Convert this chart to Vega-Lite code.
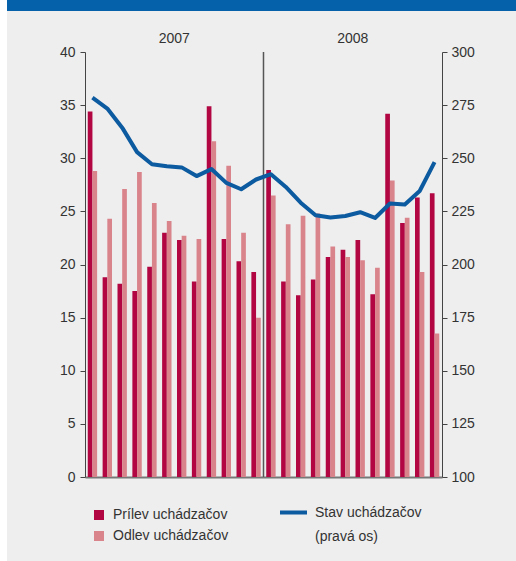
{
  "$schema": "https://vega.github.io/schema/vega-lite/v6.json",
  "background": "#eeeeee",
  "padding": 0,
  "config": {
    "font": "Liberation Sans",
    "view": {"stroke": null},
    "concat": {"spacing": 0}
  },
  "datasets": {
    "bars": [
      {"month": "2007-01", "series": "Prílev uchádzačov", "value": 34.4},
      {"month": "2007-02", "series": "Prílev uchádzačov", "value": 18.8},
      {"month": "2007-03", "series": "Prílev uchádzačov", "value": 18.2},
      {"month": "2007-04", "series": "Prílev uchádzačov", "value": 17.5},
      {"month": "2007-05", "series": "Prílev uchádzačov", "value": 19.8},
      {"month": "2007-06", "series": "Prílev uchádzačov", "value": 23.0},
      {"month": "2007-07", "series": "Prílev uchádzačov", "value": 22.3},
      {"month": "2007-08", "series": "Prílev uchádzačov", "value": 18.4},
      {"month": "2007-09", "series": "Prílev uchádzačov", "value": 34.9},
      {"month": "2007-10", "series": "Prílev uchádzačov", "value": 22.4},
      {"month": "2007-11", "series": "Prílev uchádzačov", "value": 20.3},
      {"month": "2007-12", "series": "Prílev uchádzačov", "value": 19.3},
      {"month": "2008-01", "series": "Prílev uchádzačov", "value": 28.9},
      {"month": "2008-02", "series": "Prílev uchádzačov", "value": 18.4},
      {"month": "2008-03", "series": "Prílev uchádzačov", "value": 17.1},
      {"month": "2008-04", "series": "Prílev uchádzačov", "value": 18.6},
      {"month": "2008-05", "series": "Prílev uchádzačov", "value": 20.7},
      {"month": "2008-06", "series": "Prílev uchádzačov", "value": 21.4},
      {"month": "2008-07", "series": "Prílev uchádzačov", "value": 22.3},
      {"month": "2008-08", "series": "Prílev uchádzačov", "value": 17.2},
      {"month": "2008-09", "series": "Prílev uchádzačov", "value": 34.2},
      {"month": "2008-10", "series": "Prílev uchádzačov", "value": 23.9},
      {"month": "2008-11", "series": "Prílev uchádzačov", "value": 26.3},
      {"month": "2008-12", "series": "Prílev uchádzačov", "value": 26.7},
      {"month": "2007-01", "series": "Odlev uchádzačov", "value": 28.8},
      {"month": "2007-02", "series": "Odlev uchádzačov", "value": 24.3},
      {"month": "2007-03", "series": "Odlev uchádzačov", "value": 27.1},
      {"month": "2007-04", "series": "Odlev uchádzačov", "value": 28.7},
      {"month": "2007-05", "series": "Odlev uchádzačov", "value": 25.8},
      {"month": "2007-06", "series": "Odlev uchádzačov", "value": 24.1},
      {"month": "2007-07", "series": "Odlev uchádzačov", "value": 22.7},
      {"month": "2007-08", "series": "Odlev uchádzačov", "value": 22.4},
      {"month": "2007-09", "series": "Odlev uchádzačov", "value": 31.6},
      {"month": "2007-10", "series": "Odlev uchádzačov", "value": 29.3},
      {"month": "2007-11", "series": "Odlev uchádzačov", "value": 23.0},
      {"month": "2007-12", "series": "Odlev uchádzačov", "value": 15.0},
      {"month": "2008-01", "series": "Odlev uchádzačov", "value": 26.5},
      {"month": "2008-02", "series": "Odlev uchádzačov", "value": 23.8},
      {"month": "2008-03", "series": "Odlev uchádzačov", "value": 24.6},
      {"month": "2008-04", "series": "Odlev uchádzačov", "value": 24.8},
      {"month": "2008-05", "series": "Odlev uchádzačov", "value": 21.7},
      {"month": "2008-06", "series": "Odlev uchádzačov", "value": 20.7},
      {"month": "2008-07", "series": "Odlev uchádzačov", "value": 20.4},
      {"month": "2008-08", "series": "Odlev uchádzačov", "value": 19.7},
      {"month": "2008-09", "series": "Odlev uchádzačov", "value": 27.9},
      {"month": "2008-10", "series": "Odlev uchádzačov", "value": 24.4},
      {"month": "2008-11", "series": "Odlev uchádzačov", "value": 19.3},
      {"month": "2008-12", "series": "Odlev uchádzačov", "value": 13.5}
    ],
    "stav": [
      {"month": "2007-01", "stav": 278.5},
      {"month": "2007-02", "stav": 273.4},
      {"month": "2007-03", "stav": 264.4},
      {"month": "2007-04", "stav": 252.9},
      {"month": "2007-05", "stav": 247.2},
      {"month": "2007-06", "stav": 246.2},
      {"month": "2007-07", "stav": 245.7},
      {"month": "2007-08", "stav": 241.6},
      {"month": "2007-09", "stav": 244.9},
      {"month": "2007-10", "stav": 238.4},
      {"month": "2007-11", "stav": 235.4},
      {"month": "2007-12", "stav": 240.0},
      {"month": "2008-01", "stav": 242.5},
      {"month": "2008-02", "stav": 236.5},
      {"month": "2008-03", "stav": 229.1},
      {"month": "2008-04", "stav": 223.2},
      {"month": "2008-05", "stav": 222.1},
      {"month": "2008-06", "stav": 222.8},
      {"month": "2008-07", "stav": 224.6},
      {"month": "2008-08", "stav": 221.9},
      {"month": "2008-09", "stav": 228.7},
      {"month": "2008-10", "stav": 228.2},
      {"month": "2008-11", "stav": 234.6},
      {"month": "2008-12", "stav": 248.2}
    ],
    "years": [
      {"year": "2007", "m": "2007-07"},
      {"year": "2008", "m": "2008-07"}
    ]
  },
  "hconcat": [
    {
      "width": 7,
      "height": 561,
      "data": {"values": []},
      "mark": "point",
      "view": {"fill": "white", "stroke": null}
    },
    {
      "spacing": 41,
      "bounds": "flush",
      "vconcat": [
        {
          "width": 509,
          "height": 11,
          "data": {"values": []},
          "mark": "point",
          "view": {"fill": "#0561a9", "stroke": null}
        },
        {
          "spacing": 0,
          "bounds": "flush",
          "hconcat": [
            {
              "width": 78,
              "height": 425,
              "data": {"values": []},
              "mark": "point"
            },
            {
              "width": 357,
              "height": 425,
              "layer": [
                {
                  "layer": [
                    {
                      "data": {"name": "bars"},
                      "mark": {"type": "bar"},
                      "encoding": {
                        "x": {
                          "field": "month",
                          "type": "nominal",
                          "scale": {"paddingInner": 0.37, "paddingOuter": 0.185},
                          "axis": {"labels": false, "ticks": false, "title": null, "domainColor": "#777777", "domainWidth": 2}
                        },
                        "xOffset": {
                          "field": "series",
                          "type": "nominal",
                          "scale": {"domain": ["Prílev uchádzačov", "Odlev uchádzačov"], "paddingInner": 0, "paddingOuter": 0}
                        },
                        "y": {
                          "field": "value",
                          "type": "quantitative",
                          "scale": {"domain": [0, 40], "nice": false},
                          "axis": {
                            "orient": "left",
                            "values": [0, 5, 10, 15, 20, 25, 30, 35, 40],
                            "tickSize": 5,
                            "labelFontSize": 14,
                            "labelColor": "#333333",
                            "labelPadding": 5,
                            "domainColor": "#444444",
                            "tickColor": "#444444",
                            "grid": false,
                            "title": null
                          }
                        },
                        "color": {
                          "field": "series",
                          "type": "nominal",
                          "scale": {"domain": ["Prílev uchádzačov", "Odlev uchádzačov"], "range": ["#b10642", "#d9838b"]},
                          "legend": {
                            "orient": "none",
                            "legendX": 92,
                            "legendY": 508,
                            "direction": "vertical",
                            "title": null,
                            "symbolType": "square",
                            "symbolSize": 100,
                            "symbolStrokeWidth": 0,
                            "labelFontSize": 14,
                            "labelColor": "#333333",
                            "labelOffset": 7,
                            "rowPadding": 7,
                            "padding": 0
                          }
                        }
                      }
                    },
                    {
                      "data": {"values": [{}]},
                      "mark": {"type": "rule", "color": "#555555", "strokeWidth": 1.5},
                      "encoding": {
                        "x": {"datum": "2008-01", "type": "nominal", "bandPosition": -0.294},
                        "y": {"datum": 0, "type": "quantitative"},
                        "y2": {"datum": 40}
                      }
                    },
                    {
                      "data": {"name": "years"},
                      "mark": {"type": "text", "fontSize": 14, "color": "#333333", "baseline": "middle"},
                      "encoding": {
                        "x": {"field": "m", "type": "nominal", "bandPosition": -0.294},
                        "y": {"datum": 41.2, "type": "quantitative"},
                        "text": {"field": "year"}
                      }
                    }
                  ]
                },
                {
                  "data": {"name": "stav"},
                  "mark": {"type": "line", "strokeWidth": 4, "interpolate": "linear", "strokeJoin": "round"},
                  "encoding": {
                    "x": {"field": "month", "type": "nominal"},
                    "y": {
                      "field": "stav",
                      "type": "quantitative",
                      "scale": {"domain": [100, 300], "nice": false},
                      "axis": {
                        "orient": "right",
                        "values": [100, 125, 150, 175, 200, 225, 250, 275, 300],
                        "tickSize": 5,
                        "labelFontSize": 14,
                        "labelColor": "#333333",
                        "labelPadding": 4,
                        "domainColor": "#444444",
                        "tickColor": "#444444",
                        "grid": false,
                        "title": null
                      }
                    },
                    "stroke": {
                      "datum": "Stav uchádzačov",
                      "type": "nominal",
                      "scale": {"domain": ["Stav uchádzačov", "(pravá os)"], "range": ["#0c5aa0", "transparent"]},
                      "legend": {
                        "orient": "none",
                        "legendX": 278,
                        "legendY": 497,
                        "direction": "vertical",
                        "title": null,
                        "symbolType": "stroke",
                        "symbolSize": 729,
                        "symbolStrokeWidth": 4,
                        "labelFontSize": 14,
                        "labelColor": "#333333",
                        "labelOffset": 6,
                        "rowPadding": -15,
                        "padding": 0
                      }
                    }
                  }
                }
              ],
              "resolve": {"scale": {"y": "independent"}}
            }
          ]
        }
      ]
    }
  ]
}
